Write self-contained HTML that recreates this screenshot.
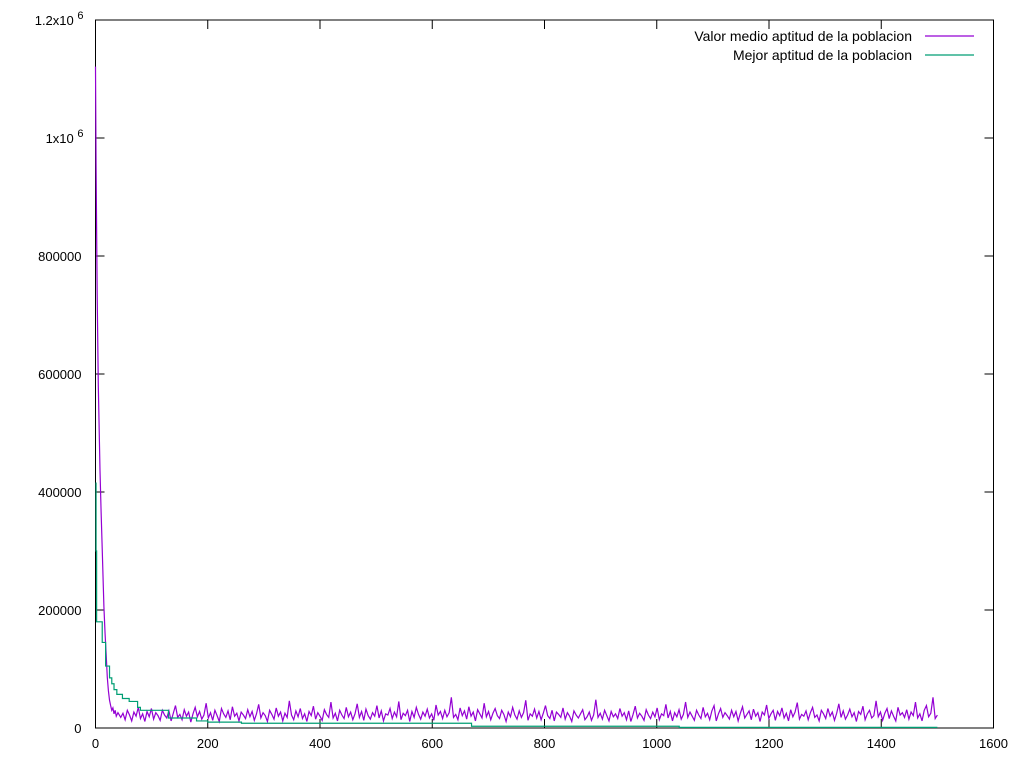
<!DOCTYPE html>
<html><head><meta charset="utf-8"><style>
html,body{margin:0;padding:0;background:#fff;}
svg{display:block;font-family:"Liberation Sans",sans-serif;}
</style></head><body>
<svg id="chart" width="1024" height="768" viewBox="0 0 1024 768"></svg>
<script>
const xTicks=[0,200,400,600,800,1000,1200,1400,1600];
const yTicks=[0,200000,400000,600000,800000,1000000,1200000];
const yTickLabels=["0","200000","400000","600000","800000","1x10^6","1.2x10^6"];
const seriesNames=["Valor medio aptitud de la poblacion","Mejor aptitud de la poblacion"];
// early mean values [generation, value]
const meanEarly=[[0,1121000],[1,956000],[3,734000],[5,580000],[7,485000],[8,437000],[10,366000],[12,303000],[14,237000],[15,205000],[17,161000],[19,125000],[21,86000],[23,63000],[25,47000],[27,38000],[29,30000],[31,34000],[33,24000],[35,30000],[37,20000],[40,26000]];
// later mean values in thousands, evenly spaced from generation 45 to 1500
const meanLate=[
18,25,14,30,22,12,27,20,35,16,24,11,28,19,33,15,26,21,13,30,
22,17,29,12,25,38,18,23,14,31,20,27,10,24,35,19,28,15,22,42,
17,26,13,30,21,11,33,24,18,29,14,36,20,25,12,27,22,16,31,19,
28,13,24,40,17,26,21,11,30,23,15,34,20,27,12,25,18,46,22,14,
29,19,33,16,24,11,28,21,37,15,26,20,13,31,23,18,44,17,25,12,
30,22,16,35,19,27,14,24,41,18,28,13,32,21,15,26,20,38,17,29,
12,24,22,33,16,27,19,45,14,25,21,30,11,28,18,35,23,15,27,20,
32,17,24,13,39,22,28,16,30,19,26,52,18,23,14,34,21,29,15,36,
20,27,12,31,24,17,42,19,28,14,25,33,21,16,30,23,11,27,19,35,
22,15,29,18,26,47,13,24,20,32,17,28,14,25,38,21,16,30,12,27,
23,18,34,15,26,20,11,29,22,17,24,31,14,19,27,13,22,48,18,25,
15,30,21,12,28,19,24,16,33,20,26,14,29,11,23,37,17,25,20,13,
31,22,16,27,19,34,14,24,21,40,17,28,12,26,19,31,15,23,44,18,
27,20,13,30,22,16,35,19,25,14,29,38,12,24,33,18,26,21,15,30,
19,28,12,25,36,17,23,29,14,32,20,26,11,27,22,39,16,24,30,13,
28,21,34,17,25,12,31,19,27,43,15,23,20,29,14,26,35,18,22,12,
30,24,16,33,20,27,13,25,41,18,29,15,22,32,19,26,11,28,23,37,
14,24,30,17,21,46,19,27,13,25,33,16,29,20,12,35,22,26,18,31,
15,27,21,44,17,24,12,30,38,19,25,52,16,22];
// best fitness steps [generation, value]
const bestSteps=[[0,415000],[1,300000],[2,180000],[12,145000],[18,105000],[25,85000],[29,75000],[33,65000],[38,57000],[48,50000],[60,45000],[75,35000],[80,30000],[130,17000],[180,12000],[200,10000],[260,8000],[670,3000],[1040,1000],[1500,1000]];
const lateStart=45, lateEnd=1500;

const svg=document.getElementById('chart');
const NS='http://www.w3.org/2000/svg';
const L=95.5,R=993.5,T=20,B=728;
const xs=v=>L+(v/1600)*(R-L);
const ys=v=>B-(v/1200000)*(B-T);
function mk(tag,attrs,parent){const e=document.createElementNS(NS,tag);for(const k in attrs)e.setAttribute(k,attrs[k]);(parent||svg).appendChild(e);return e;}

const frame=mk('rect',{x:L,y:T,width:R-L,height:B-T,fill:'none',stroke:'#000','stroke-width':1});



xTicks.forEach(v=>{
  const x=xs(v);
  const t=mk('path',{d:`M${x},${B}v-9M${x},${T}v9`,stroke:'#000','stroke-width':1});
  
  
  const tx=mk('text',{x:x,y:B+20,'text-anchor':'middle','font-size':13,fill:'#000'});
  tx.textContent=v;
  
  
});
yTicks.forEach((v,i)=>{
  const y=ys(v);
  const t=mk('path',{d:`M${L},${y}h9M${R},${y}h-9`,stroke:'#000','stroke-width':1});
  
  
  const tx=mk('text',{x:L-14,y:y+5,'text-anchor':'end','font-size':13,fill:'#000'});
  const lab=yTickLabels[i];
  if(lab.includes('^')){const p=lab.split('^');tx.textContent=p[0]+' ';const s=mk('tspan',{dy:-6,'font-size':11},tx);s.textContent=p[1];tx.setAttribute('x',L-12);}
  else tx.textContent=lab;
  
  
});

let pts=meanEarly.map(p=>[p[0],p[1]]);
const step=(lateEnd-lateStart)/(meanLate.length-1);
meanLate.forEach((v,i)=>pts.push([lateStart+i*step,v*1000]));
let d='';
pts.forEach((p,i)=>{d+=(i?'L':'M')+xs(p[0]).toFixed(2)+','+ys(p[1]).toFixed(2);});
const mean=mk('path',{d:d,fill:'none',stroke:'#9400d3','stroke-width':1.2});



let d2='';
bestSteps.forEach((p,i)=>{
  if(i===0)d2+='M'+xs(p[0])+','+ys(p[1]);
  else d2+='H'+xs(p[0]).toFixed(2)+'V'+ys(p[1]).toFixed(2);
});
const best=mk('path',{d:d2,fill:'none',stroke:'#009e73','stroke-width':1.2});



const colors=['#9400d3','#009e73'];
seriesNames.forEach((n,i)=>{
  const y=36+i*19;
  const tx=mk('text',{x:912,y:y+5,'text-anchor':'end','font-size':14,fill:'#000'});
  tx.textContent=n;
  
  
  const ln=mk('line',{x1:925,x2:974,y1:y,y2:y,stroke:colors[i],'stroke-width':1.2});
  
  
});
</script>
</body></html>
